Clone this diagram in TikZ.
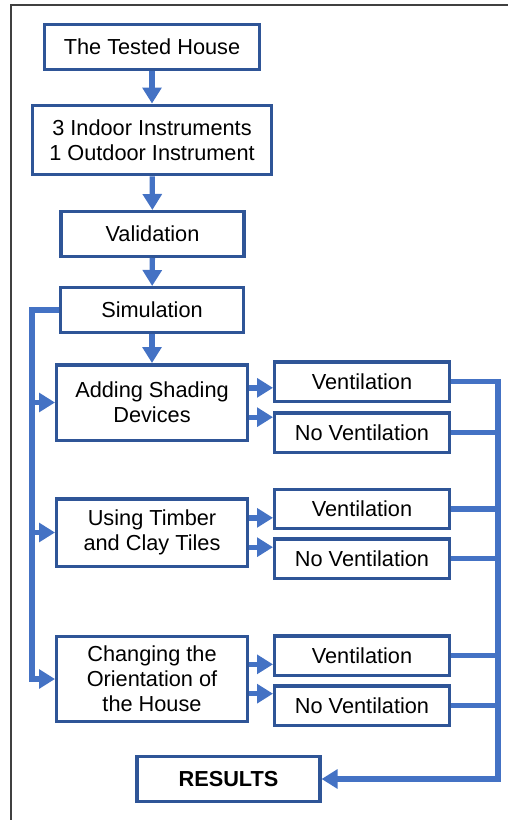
\documentclass[tikz,border=0pt]{standalone}
\usepackage{fontspec}
\setmainfont{Liberation Sans}
\usetikzlibrary{arrows.meta,calc}
\definecolor{colorbox}  {RGB}{47 ,85 ,151}
\definecolor{colorline} {RGB}{68 ,114,196}
\definecolor{colorframe}{RGB}{64 ,64 ,64 }
\definecolor{colortext} {RGB}{0  ,0  ,0  }

\begin{document}
\begin{tikzpicture}[
    x=0.75pt, y=-0.75pt,
    font={\fontsize{16.3}{18.8}\selectfont},
    base/.style={text=colortext,draw=colorbox,line width=2.6pt,inner sep=0pt,align=center,rectangle,fill=white},
    stepbox/.style={base,minimum width=137pt,minimum height=33.4pt},
    method/.style={base,minimum width=142.9pt},
    case/.style={base,minimum width=130.9pt,minimum height=29.6pt},
    flow/.style={draw=colorline,line width=4pt,-{Triangle[length=12pt,width=14pt]}},
    bus/.style={draw=colorline,line width=4pt},
]
    \useasboundingbox (0,0) rectangle (508,820);
    \draw[colorframe,line width=0.8pt] (11,820) -- (11,5) -- (508,5);

    % Nodes
    \node[stepbox,minimum width=160.9pt] (house)  at (152,47)    {The Tested House};
    \node[base,minimum width=179.6pt,minimum height=52.1pt] (instr) at (152,140)
        {3 Indoor Instruments\\1 Outdoor Instrument};
    \node[stepbox] (valid)   at (152.5,234) {Validation};
    \node[stepbox] (sim)     at (152,310)   {Simulation};
    \node[method,minimum height=56.6pt] (shade)  at (152,402.5) {Adding Shading\\Devices};
    \node[method,minimum height=50.6pt] (timber) at (152,532.5) {Using Timber\\and Clay Tiles};
    \node[method,minimum height=63.4pt] (orient) at (152,679)   {Changing the\\Orientation of\\the House};
    \node[stepbox,font={\fontsize{16.3}{18.8}\selectfont\bfseries}] (results) at (228.5,779) {RESULTS};

    % Ventilation cases
    \node[case] (v1)  at (362,381.5) {Ventilation};
    \node[case] (nv1) at (362,432.5) {No Ventilation};
    \node[case] (v2)  at (362,509)   {Ventilation};
    \node[case] (nv2) at (362,558.5) {No Ventilation};
    \node[case] (v3)  at (362,655.5) {Ventilation};
    \node[case] (nv3) at (362,705.5) {No Ventilation};

    % Main chain
    \draw[flow] (house)  -- (instr);
    \draw[flow] (instr)  -- (valid);
    \draw[flow] (valid)  -- (sim);
    \draw[flow] (sim)    -- (shade);

    % Left bus
    \coordinate (lbus) at (32,310);
    \draw[flow] (sim.west) -- (lbus) |- (orient.west);
    \draw[flow] (lbus |- shade.west)  -- (shade.west);
    \draw[flow] (lbus |- timber.west) -- (timber.west);

    % Methods to cases
    \foreach \m/\a/\b in {shade/v1/nv1,timber/v2/nv2,orient/v3/nv3}{
        \draw[flow] ([yshift=11pt]\m.east) -- ([yshift=11pt]\m.east -| \a.west);
        \draw[flow] ([yshift=-11pt]\m.east) -- ([yshift=-11pt]\m.east -| \b.west);
    }

    % Right bus
    \coordinate (rbus) at (498,382);
    \draw[flow] (v1.east) -| (rbus |- results.east) -- (results.east);
    \foreach \c in {nv1,v2,nv2,v3,nv3}
        \draw[bus] (\c.east) -- (rbus |- \c.east);

\end{tikzpicture}
\end{document}
